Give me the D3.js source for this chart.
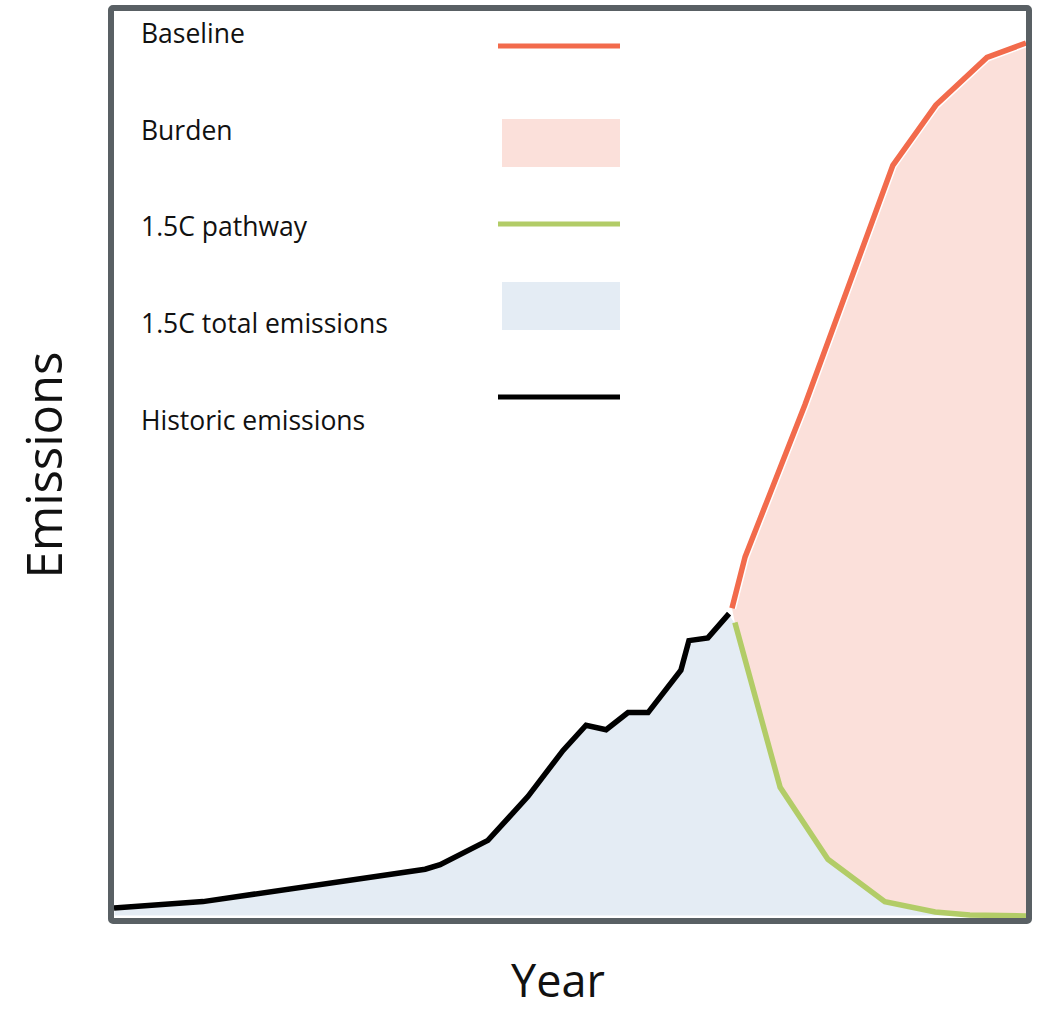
<!DOCTYPE html>
<html>
<head>
<meta charset="utf-8">
<script src="https://cdn.jsdelivr.net/npm/d3@7"></script>
<style>
  html, body { margin: 0; padding: 0; background: #fff; }
  svg { display: block; }
  text { font-family: "Open Sans", "Noto Sans", sans-serif; fill: #111; }
</style>
</head>
<body>
<svg id="chart" width="1038" height="1011"></svg>
<script>
// ---- data ----
const histYears  = [1850, 1874.4, 1935.3, 1939.4, 1952.5, 1963.5, 1973.1, 1979.4, 1984.9, 1990.9, 1996.4, 2005.4, 2007.6, 2012.8, 2018.6];
const histValues = [0.9, 1.6, 5.2, 5.7, 8.4, 13.3, 18.4, 21.2, 20.7, 22.6, 22.6, 27.3, 30.6, 30.9, 33.6];

const baseYears  = [2019.4, 2023.0, 2039.4, 2063.5, 2075.3, 2089.3, 2100];
const baseValues = [34.2, 39.9, 56.8, 83.4, 90.1, 95.4, 97.0];

const pathYears  = [2020.2, 2032.6, 2045.7, 2061.3, 2075.1, 2084.6, 2100];
const pathValues = [32.6, 14.3, 6.3, 1.6, 0.44, 0.11, 0];

const legendLabels = ["Baseline", "Burden", "1.5C pathway", "1.5C total emissions", "Historic emissions"];
const legendKinds  = ["line", "rect", "line", "rect", "line"];
const xTitle = "Year";
const yTitle = "Emissions";

// ---- styles ----
const cOrange = "#f26b4c", cPink = "#fbe0da", cGreen = "#b2cc67", cBlue = "#e4ecf4", cBlack = "#000", cFrame = "#596064";
const legendColors = [cOrange, cPink, cGreen, cBlue, cBlack];

const svg = d3.select("#chart");
const frame = {x0: 111, y0: 8, x1: 1029, y1: 921};

const x = d3.scaleLinear().domain([1850, 2100]).range([114, 1026]);
const y = d3.scaleLinear().domain([0, 100]).range([916, 16]);

const hist = histYears.map((d, i) => ({year: d, v: histValues[i]}));
const base = baseYears.map((d, i) => ({year: d, v: baseValues[i]}));
const path15 = pathYears.map((d, i) => ({year: d, v: pathValues[i]}));

svg.append("defs").append("clipPath").attr("id", "plotclip")
  .append("rect").attr("x", frame.x0).attr("y", frame.y0)
  .attr("width", frame.x1 - frame.x0).attr("height", frame.y1 - frame.y0);

const g = svg.append("g").attr("clip-path", "url(#plotclip)");

const area = d3.area().x(d => x(d.year)).y0(y(0)).y1(d => y(d.v));
const line = d3.line().x(d => x(d.year)).y(d => y(d.v));

// blue: total 1.5C emissions (historic + pathway)
g.append("path").datum(hist.concat(path15))
  .attr("d", area).attr("fill", cBlue)
  .attr("stroke", "#fff").attr("stroke-width", 1.2);

// pink: burden between baseline and pathway
const burdenPoly = base.concat(path15.slice().reverse());
g.append("path").datum(burdenPoly)
  .attr("d", d => line(d) + "Z")
  .attr("fill", cPink);

// white halo for baseline line
g.append("path").datum(base).attr("d", line)
  .attr("fill", "none").attr("stroke", "#fff").attr("stroke-width", 8.5);
g.append("path").datum(base).attr("d", line)
  .attr("fill", "none").attr("stroke", cOrange).attr("stroke-width", 5.5);

g.append("path").datum(path15).attr("d", line)
  .attr("fill", "none").attr("stroke", cGreen).attr("stroke-width", 5.5);

g.append("path").datum(hist).attr("d", line)
  .attr("fill", "none").attr("stroke", cBlack).attr("stroke-width", 5.5);

// frame
svg.append("rect")
  .attr("x", frame.x0).attr("y", frame.y0)
  .attr("width", frame.x1 - frame.x0).attr("height", frame.y1 - frame.y0)
  .attr("rx", 2).attr("fill", "none").attr("stroke", cFrame).attr("stroke-width", 6);

// legend
const lg = svg.append("g");
const step = 96.7;
const swatchY = [46, 119, 224, 282, 397];
legendLabels.forEach((lab, i) => {
  const ty = 43 + i * step;
  lg.append("text").attr("x", 141).attr("y", ty)
    .style("font-size", "26.5px").text(lab);
  if (legendKinds[i] === "line") {
    lg.append("line").attr("x1", 498).attr("x2", 620)
      .attr("y1", swatchY[i]).attr("y2", swatchY[i])
      .attr("stroke", legendColors[i]).attr("stroke-width", 5);
  } else {
    lg.append("rect").attr("x", 502).attr("y", swatchY[i])
      .attr("width", 118).attr("height", 48).attr("fill", legendColors[i]);
  }
});

// axis titles
svg.append("text").attr("x", 558).attr("y", 997)
  .attr("text-anchor", "middle").style("font-size", "45px").text(xTitle);
svg.append("text")
  .attr("transform", "translate(62,465) rotate(-90)")
  .attr("text-anchor", "middle").style("font-size", "49px").text(yTitle);
</script>
</body>
</html>
